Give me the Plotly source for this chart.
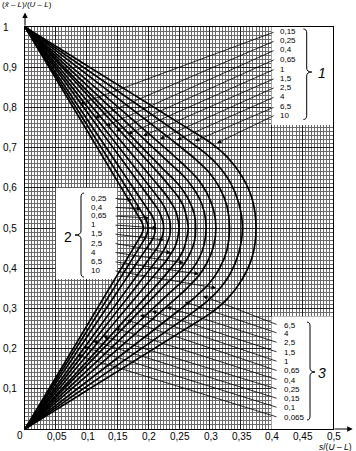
import plotly.graph_objects as go

# ---------------- data ----------------
# Acceptance curves: x = s/(U-L), y = (xbar-L)/(U-L)
curve_x = [
    [0, 0.185, 0.1905, 0.192, 0.1905, 0.185, 0],
    [0, 0.1895, 0.1976, 0.200, 0.1976, 0.1895, 0],
    [0, 0.195, 0.202, 0.206, 0.209, 0.211, 0.211, 0.211, 0.209, 0.206, 0.202, 0.195, 0],
    [0, 0.202, 0.212, 0.217, 0.221, 0.224, 0.225, 0.224, 0.221, 0.217, 0.212, 0.202, 0],
    [0, 0.208, 0.220, 0.226, 0.231, 0.235, 0.236, 0.235, 0.231, 0.226, 0.220, 0.208, 0],
    [0, 0.214, 0.229, 0.236, 0.244, 0.248, 0.250, 0.248, 0.244, 0.236, 0.229, 0.214, 0],
    [0, 0.221, 0.238, 0.248, 0.257, 0.262, 0.265, 0.262, 0.257, 0.248, 0.238, 0.221, 0],
    [0, 0.226, 0.247, 0.258, 0.268, 0.275, 0.277, 0.275, 0.268, 0.258, 0.247, 0.226, 0],
    [0, 0.233, 0.257, 0.270, 0.283, 0.291, 0.294, 0.291, 0.283, 0.270, 0.257, 0.233, 0],
    [0, 0.240, 0.266, 0.282, 0.296, 0.306, 0.310, 0.306, 0.296, 0.282, 0.266, 0.240, 0],
    [0, 0.248, 0.279, 0.298, 0.316, 0.328, 0.332, 0.328, 0.316, 0.298, 0.279, 0.248, 0],
    [0, 0.256, 0.291, 0.312, 0.333, 0.347, 0.353, 0.347, 0.333, 0.312, 0.291, 0.256, 0],
    [0, 0.263, 0.303, 0.328, 0.352, 0.369, 0.375, 0.369, 0.352, 0.328, 0.303, 0.263, 0],
]
curve_y = [
    [0, 0.473, 0.4885, 0.5, 0.5115, 0.527, 1],
    [0, 0.461, 0.483, 0.5, 0.517, 0.539, 1],
    [0, 0.444, 0.460, 0.469, 0.479, 0.490, 0.5, 0.510, 0.521, 0.531, 0.540, 0.556, 1],
    [0, 0.424, 0.445, 0.457, 0.471, 0.485, 0.5, 0.515, 0.529, 0.543, 0.555, 0.576, 1],
    [0, 0.408, 0.432, 0.447, 0.464, 0.481, 0.5, 0.519, 0.536, 0.553, 0.568, 0.592, 1],
    [0, 0.390, 0.418, 0.434, 0.455, 0.476, 0.5, 0.524, 0.545, 0.566, 0.582, 0.610, 1],
    [0, 0.371, 0.402, 0.421, 0.445, 0.471, 0.5, 0.529, 0.555, 0.579, 0.598, 0.629, 1],
    [0, 0.356, 0.388, 0.410, 0.437, 0.466, 0.5, 0.534, 0.563, 0.590, 0.612, 0.644, 1],
    [0, 0.336, 0.370, 0.394, 0.426, 0.460, 0.5, 0.540, 0.574, 0.606, 0.630, 0.664, 1],
    [0, 0.318, 0.355, 0.381, 0.415, 0.454, 0.5, 0.546, 0.585, 0.619, 0.645, 0.682, 1],
    [0, 0.293, 0.332, 0.360, 0.400, 0.446, 0.5, 0.554, 0.600, 0.640, 0.668, 0.707, 1],
    [0, 0.272, 0.312, 0.342, 0.386, 0.438, 0.5, 0.562, 0.614, 0.658, 0.688, 0.728, 1],
    [0, 0.251, 0.290, 0.323, 0.371, 0.429, 0.5, 0.571, 0.629, 0.677, 0.710, 0.749, 1],
]

labels_1 = ["0,15", "0,25", "0,4", "0,65", "1", "1,5", "2,5", "4", "6,5", "10"]
labels_2 = ["0,25", "0,4", "0,65", "1", "1,5", "2,5", "4", "6,5", "10"]
labels_3 = ["6,5", "4", "2,5", "1,5", "1", "0,65", "0,4", "0,25", "0,15", "0,1", "0,065"]

x_tickvals = [0.05, 0.1, 0.15, 0.2, 0.25, 0.3, 0.35, 0.4, 0.45, 0.5]
x_ticktext = ["0,05", "0,1", "0,15", "0,2", "0,25", "0,3", "0,35", "0,4", "0,45", "0,5"]
y_tickvals = [0.1, 0.2, 0.3, 0.4, 0.5, 0.6, 0.7, 0.8, 0.9, 1.0]
y_ticktext = ["0,1", "0,2", "0,3", "0,4", "0,5", "0,6", "0,7", "0,8", "0,9", "1"]

# ---------------- layout positions (not data) ----------------
g1_rows = [0.9883, 0.9659, 0.9428, 0.9197, 0.8955, 0.8724, 0.850, 0.8266, 0.8017, 0.781]
g1_tips = [(0.0893, 0.8085), (0.1136, 0.7736), (0.1315, 0.7537), (0.1477, 0.7413), (0.1672, 0.7338),
           (0.1916, 0.7289), (0.2192, 0.7214), (0.2468, 0.7189), (0.276, 0.7164), (0.3117, 0.7114)]
g2_rows = [0.5739, 0.5515, 0.5299, 0.5075, 0.4851, 0.4619, 0.4396, 0.4162, 0.3938]
g2_tips = [(0.1737, 0.5697), (0.1883, 0.5473), (0.2013, 0.5249), (0.2143, 0.500), (0.2256, 0.4701),
           (0.237, 0.4378), (0.2581, 0.4129), (0.2825, 0.3856), (0.3101, 0.3507)]
g3_rows = [0.2587, 0.2381, 0.2147, 0.1908, 0.1674, 0.1443, 0.1219, 0.0988, 0.0754, 0.053, 0.0291]
g3_tips = [(0.289, 0.3308), (0.2597, 0.3159), (0.2305, 0.3035), (0.2062, 0.2935), (0.1867, 0.2836),
           (0.1656, 0.2711), (0.1461, 0.2512), (0.1266, 0.2313), (0.1104, 0.2189), (0.0958, 0.204),
           (0.0844, 0.1841)]

FONT = "Liberation Sans, Arial, Helvetica, sans-serif"

fig = go.Figure()
for cx, cy in zip(curve_x, curve_y):
    fig.add_trace(go.Scatter(x=cx, y=cy, mode="lines",
                             line=dict(color="black", width=1.7, shape="spline", smoothing=0.8),
                             hoverinfo="skip", showlegend=False))

shapes = []
# white label boxes
for x0, x1, y0, y1 in [(0.4, 0.5, 0.756, 1.0), (0.05, 0.15, 0.373, 0.6), (0.4, 0.5, 0.0, 0.28)]:
    shapes.append(dict(type="rect", xref="x", yref="y", x0=x0, x1=x1, y0=y0, y1=y1,
                       fillcolor="white", line=dict(width=0), layer="between"))


def brace(x_end, x_line, x_tip, y_top, y_bot, y_mid, r=0.01):
    return (f"M {x_end},{y_top} Q {x_line},{y_top} {x_line},{y_top - r} "
            f"L {x_line},{y_mid + r} Q {x_line},{y_mid} {x_tip},{y_mid} "
            f"Q {x_line},{y_mid} {x_line},{y_mid - r} "
            f"L {x_line},{y_bot + r} Q {x_line},{y_bot} {x_end},{y_bot}")


for p in [brace(0.452, 0.4573, 0.4654, 0.995, 0.770, 0.888),
          brace(0.0958, 0.0909, 0.0812, 0.587, 0.378, 0.4826),
          brace(0.4578, 0.4627, 0.4708, 0.266, 0.0224, 0.1418)]:
    shapes.append(dict(type="path", xref="x", yref="y", path=p,
                       line=dict(color="black", width=1), layer="above"))

ann = []
lab_font = dict(family=FONT, size=8, color="black")
arrow_style = dict(text="", showarrow=True, arrowhead=2, arrowsize=1.1, arrowwidth=0.8,
                   arrowcolor="black", standoff=0, xref="x", yref="y", axref="x", ayref="y")
# group 1
for txt, yr, (tx, ty) in zip(labels_1, g1_rows, g1_tips):
    ann.append(dict(x=0.4123, y=yr, xref="x", yref="y", text=txt, showarrow=False,
                    xanchor="left", yanchor="middle", font=lab_font, borderpad=0))
    ann.append(dict(x=tx, y=ty, ax=0.406, ay=yr, **arrow_style))
# group 2
for txt, yr, (tx, ty) in zip(labels_2, g2_rows, g2_tips):
    ann.append(dict(x=0.1055, y=yr, xref="x", yref="y", text=txt, showarrow=False,
                    xanchor="left", yanchor="middle", font=lab_font, borderpad=0))
    ann.append(dict(x=tx, y=ty, ax=0.1445, ay=yr, **arrow_style))
# group 3
for txt, yr, (tx, ty) in zip(labels_3, g3_rows, g3_tips):
    ann.append(dict(x=0.4188, y=yr, xref="x", yref="y", text=txt, showarrow=False,
                    xanchor="left", yanchor="middle", font=lab_font, borderpad=0))
    ann.append(dict(x=tx, y=ty, ax=0.4107, ay=yr, **arrow_style))

# group numbers
ann.append(dict(x=0.4825, y=0.885, xref="x", yref="y", text="<i>1</i>", showarrow=False,
                font=dict(family=FONT, size=14, color="black")))
ann.append(dict(x=0.0703, y=0.478, xref="x", yref="y", text="2", showarrow=False,
                font=dict(family=FONT, size=14, color="black")))
ann.append(dict(x=0.4825, y=0.140, xref="x", yref="y", text="<i>3</i>", showarrow=False,
                font=dict(family=FONT, size=14, color="black")))

tick_font = dict(family=FONT, size=10, color="black")
# y tick labels (left aligned as in the original)
for v, t in zip(y_tickvals, y_ticktext):
    ann.append(dict(x=0, y=v, xref="paper", yref="y", text=t, showarrow=False,
                    xanchor="left", yanchor="middle", xshift=-23, font=tick_font, borderpad=0))
# x tick labels
for v, t in zip(x_tickvals, x_ticktext):
    ann.append(dict(x=v, y=0, xref="x", yref="y", text=t, showarrow=False,
                    xanchor="center", yanchor="middle", xshift=1, yshift=-7,
                    font=tick_font, borderpad=0))
ann.append(dict(x=0, y=0, xref="x", yref="y", text="0", showarrow=False,
                xanchor="right", yanchor="middle", xshift=-1, yshift=-6,
                font=tick_font, borderpad=0))

# axis arrows
ann.append(dict(x=0, y=1.036, ax=0, ay=1.0, xref="x", yref="y", axref="x", ayref="y",
                text="", showarrow=True, arrowhead=2, arrowsize=1, arrowwidth=1.1,
                arrowcolor="black", standoff=0))
ann.append(dict(x=0.532, y=0, ax=0.5, ay=0, xref="x", yref="y", axref="x", ayref="y",
                text="", showarrow=True, arrowhead=2, arrowsize=1, arrowwidth=1.1,
                arrowcolor="black", standoff=0))

# axis titles
ann.append(dict(x=0, y=1.055, xref="paper", yref="paper", xanchor="left", yanchor="middle",
                xshift=-24, showarrow=False, borderpad=0,
                text="(<i>x\u0304</i> \u2013 <i>L</i>)/(<i>U</i> \u2013 <i>L</i>)",
                font=dict(family=FONT, size=8, color="black")))
ann.append(dict(x=1.0, y=0, xref="paper", yref="paper", xanchor="right", yanchor="middle",
                xshift=20, yshift=-17.5, showarrow=False, borderpad=0,
                text="<i>s</i>/(<i>U</i> \u2013 <i>L</i>)",
                font=dict(family=FONT, size=8.5, color="black")))

fig.update_layout(
    width=356, height=451,
    margin=dict(l=25, r=23, t=27, b=22),
    paper_bgcolor="white", plot_bgcolor="white",
    font=dict(family=FONT, size=10, color="black"),
    showlegend=False,
    shapes=shapes, annotations=ann,
    xaxis=dict(range=[0, 0.5], tickvals=x_tickvals, showticklabels=False, ticks="",
               showgrid=True, gridcolor="#222222", gridwidth=0.9,
               minor=dict(dtick=0.005, tick0=0, showgrid=True, gridcolor="#6a6a6a", gridwidth=0.5),
               zeroline=False, showline=True, mirror=True, linecolor="black", linewidth=1.2,
               fixedrange=True),
    yaxis=dict(range=[0, 1], tickvals=y_tickvals, showticklabels=False, ticks="",
               showgrid=True, gridcolor="#222222", gridwidth=0.9,
               minor=dict(dtick=0.01, tick0=0, showgrid=True, gridcolor="#6a6a6a", gridwidth=0.5),
               zeroline=False, showline=True, mirror=True, linecolor="black", linewidth=1.2,
               fixedrange=True),
)

fig.write_html("out.html", config={"displayModeBar": False},
               post_script="document.body.style.margin='0';document.body.style.overflow='hidden';")
